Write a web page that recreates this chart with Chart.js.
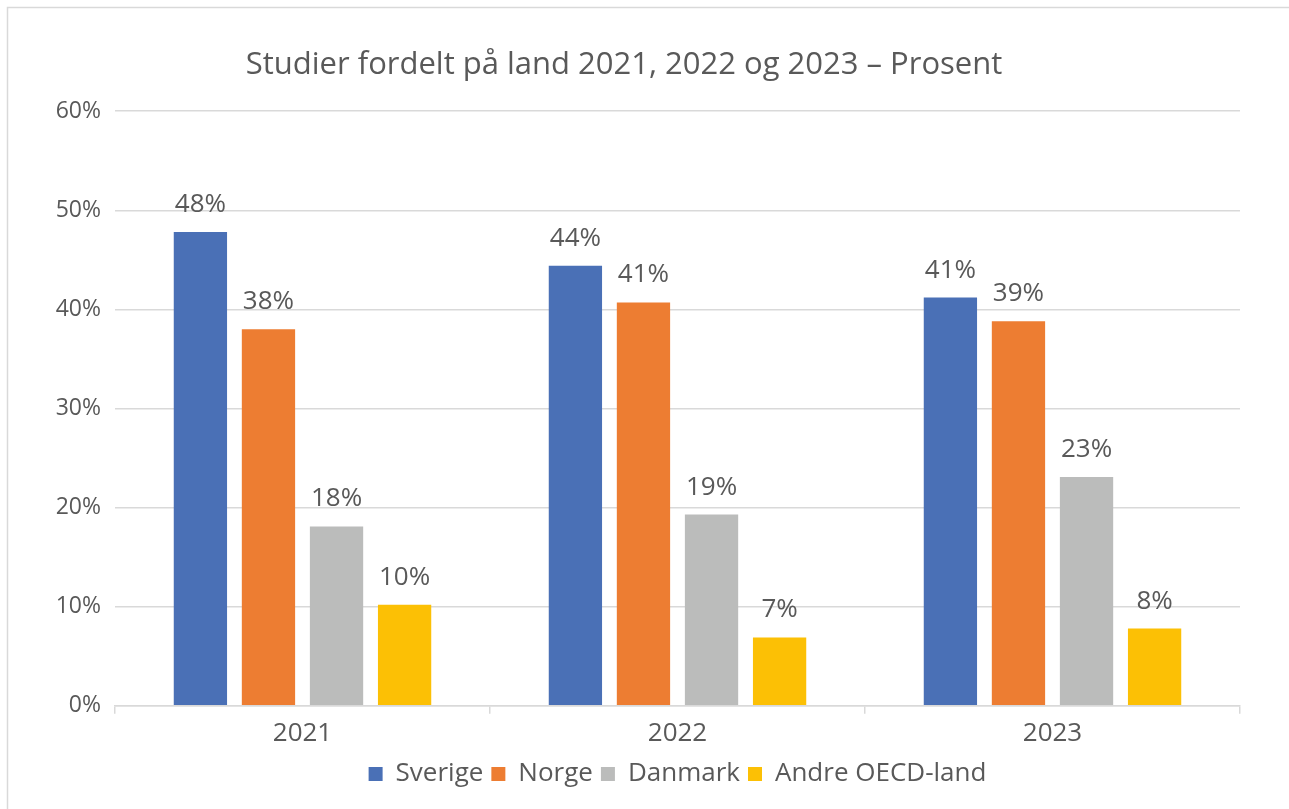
<!DOCTYPE html>
<html>
<head>
<meta charset="utf-8">
<script src="https://cdn.jsdelivr.net/npm/chart.js@4"></script>
<style>
  html, body { margin: 0; padding: 0; background: #ffffff; }
  #wrap { position: relative; width: 1289px; height: 809px; }
</style>
</head>
<body>
<div id="wrap"><canvas id="c" width="1289" height="809"></canvas></div>
<script>
const categories = ['2021', '2022', '2023'];
const seriesNames = ['Sverige', 'Norge', 'Danmark', 'Andre OECD-land'];
const sverige = [47.8, 44.4, 41.2];
const norge = [38.0, 40.7, 38.8];
const danmark = [18.1, 19.3, 23.1];
const andreOECD = [10.2, 6.9, 7.8];
const yTickMax = 60;
const yTickStep = 10;
const titleText = 'Studier fordelt på land 2021, 2022 og 2023 – Prosent';

const colors = ['#4A70B6', '#ED7D32', '#BBBCBB', '#FCC005'];
const textColor = '#595959';
const gridColor = '#D9D9D9';
const FONT = "'Open Sans', 'Noto Sans', sans-serif";

const frame = {
  id: 'frame',
  beforeDraw(chart) {
    const ctx = chart.ctx;
    ctx.save();
    ctx.fillStyle = '#ffffff';
    ctx.fillRect(0, 0, chart.width, chart.height);
    ctx.strokeStyle = gridColor;
    ctx.lineWidth = 1.5;
    ctx.beginPath();
    ctx.moveTo(7.5, chart.height);
    ctx.lineTo(7.5, 7.5);
    ctx.lineTo(chart.width, 7.5);
    ctx.stroke();
    ctx.restore();
  }
};

const dataLabels = {
  id: 'dataLabels',
  afterDatasetsDraw(chart) {
    const ctx = chart.ctx;
    ctx.save();
    ctx.font = '26px ' + FONT;
    ctx.fillStyle = textColor;
    ctx.textAlign = 'center';
    ctx.textBaseline = 'alphabetic';
    chart.data.datasets.forEach((ds, i) => {
      const meta = chart.getDatasetMeta(i);
      meta.data.forEach((el, j) => {
        ctx.fillText(Math.round(ds.data[j]) + '%', el.x, el.y - 20);
      });
    });
    ctx.restore();
  }
};

const seriesData = [sverige, norge, danmark, andreOECD];

new Chart(document.getElementById('c'), {
  type: 'bar',
  data: {
    labels: categories,
    datasets: seriesNames.map((name, i) => ({
      label: name,
      data: seriesData[i],
      backgroundColor: colors[i],
      borderWidth: 0,
      categoryPercentage: 0.726,
      barPercentage: 0.783
    }))
  },
  options: {
    responsive: false,
    animation: false,
    devicePixelRatio: 1,
    layout: { padding: { left: 8, right: 49, top: 47, bottom: 12 } },
    plugins: {
      title: {
        display: true,
        text: titleText,
        color: textColor,
        font: { family: FONT, size: 31, weight: 'normal' },
        padding: { top: 0, bottom: 27 }
      },
      legend: {
        position: 'bottom',
        fullSize: false,
        labels: {
          color: textColor,
          font: { family: FONT, size: 26 },
          boxWidth: 14,
          boxHeight: 14,
          padding: 8
        }
      },
      tooltip: { enabled: false }
    },
    scales: {
      x: {
        grid: {
          display: true,
          drawOnChartArea: false,
          drawTicks: true,
          tickLength: 8,
          color: gridColor,
          lineWidth: 1.5
        },
        border: { display: true, color: gridColor, width: 1.5 },
        ticks: {
          color: textColor,
          font: { family: FONT, size: 26 },
          padding: 4
        }
      },
      y: {
        min: 0,
        max: yTickMax,
        grid: { color: gridColor, lineWidth: 1.5, drawTicks: false },
        border: { display: false },
        ticks: {
          stepSize: yTickStep,
          color: textColor,
          font: { family: FONT, size: 23 },
          padding: 14,
          callback: v => v + '%'
        },
        afterFit(scale) { scale.width = 107; }
      }
    }
  },
  plugins: [frame, dataLabels]
});
</script>
</body>
</html>
